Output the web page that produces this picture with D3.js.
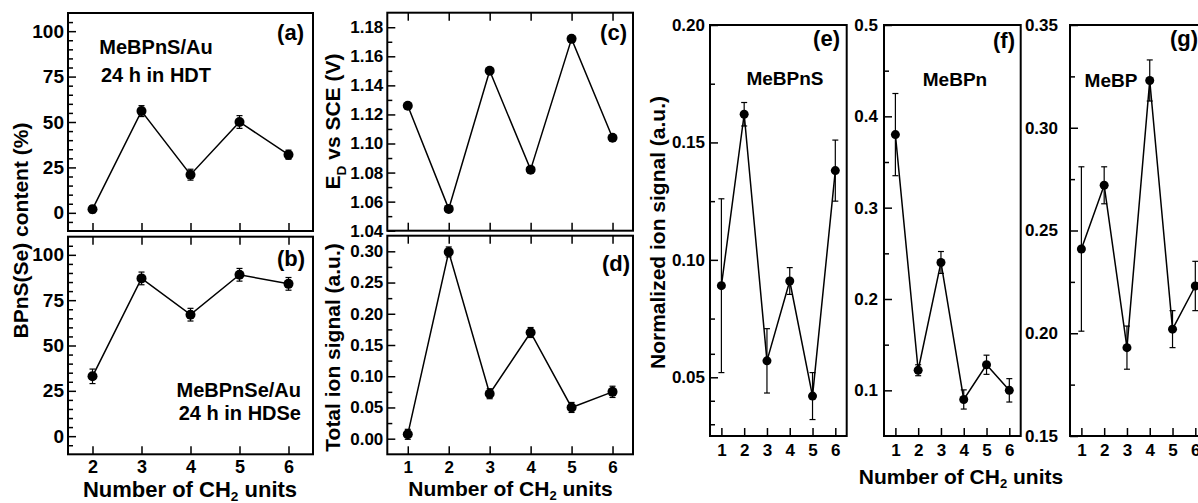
<!DOCTYPE html>
<html>
<head>
<meta charset="utf-8">
<script src="https://cdn.jsdelivr.net/npm/d3@7"></script>
<style>
  html, body { margin: 0; padding: 0; background: #fff; }
  svg { display: block; font-family: "Liberation Sans", Arial, Helvetica, sans-serif; font-weight: bold; }
</style>
</head>
<body>
<svg id="chart" width="1198" height="503"></svg>
<script>
// ---- data ----
const unitsAB = [2, 3, 4, 5, 6];
const contentS = [2, 56, 21, 50, 32];          // MeBPnS/Au after 24 h in HDT (%)
const contentSErr = [2, 3, 3, 3.5, 2.5];
const contentSe = [33, 87, 67, 89, 84];        // MeBPnSe/Au after 24 h in HDSe (%)
const contentSeErr = [4, 3.5, 3.5, 3.5, 3.5];

const unitsCG = [1, 2, 3, 4, 5, 6];
const desorption = [1.126, 1.055, 1.150, 1.082, 1.172, 1.104];   // E_D vs SCE (V)
const totalIon = [0.007, 0.299, 0.072, 0.170, 0.050, 0.075];
const totalIonErr = [0.008, 0.008, 0.008, 0.008, 0.008, 0.009];

const ionMeBPnS = [0.089, 0.162, 0.057, 0.091, 0.042, 0.138];
const ionMeBPnSErr = [0.037, 0.005, 0.0137, 0.0057, 0.010, 0.013];
const ionMeBPn = [0.380, 0.122, 0.240, 0.090, 0.128, 0.100];
const ionMeBPnErr = [0.045, 0.006, 0.012, 0.0105, 0.0105, 0.0128];
const ionMeBP = [0.241, 0.272, 0.193, 0.323, 0.202, 0.223];
const ionMeBPErr = [0.040, 0.009, 0.0105, 0.010, 0.009, 0.012];

// ---- tick values ----
const ticksContent = [0, 25, 50, 75, 100];
const minorContent = d3.range(-5, 110, 5).filter(v => v % 25 !== 0);
const ticksED = [1.04, 1.06, 1.08, 1.10, 1.12, 1.14, 1.16, 1.18];
const minorED = [1.05, 1.07, 1.09, 1.11, 1.13, 1.15, 1.17];
const ticksTotal = [0, 0.05, 0.10, 0.15, 0.20, 0.25, 0.30];
const minorTotal = [0.025, 0.075, 0.125, 0.175, 0.225, 0.275];
const ticksE = [0.05, 0.10, 0.15, 0.20];
const minorE = [0.175, 0.125, 0.075, 0.06, 0.04, 0.03];
const ticksF = [0.1, 0.2, 0.3, 0.4, 0.5];
const minorF = [0.15, 0.25, 0.35, 0.45];
const ticksG = [0.15, 0.20, 0.25, 0.30, 0.35];
const minorG = [0.175, 0.225, 0.275, 0.325];

const svg = d3.select("#chart");

function panel(cfg) {
  const g = svg.append("g");
  const x = d3.scaleLinear().domain(cfg.xDomain).range([cfg.left, cfg.right]);
  const y = d3.scaleLinear().domain(cfg.yDomain).range([cfg.bottom, cfg.top]);
  const w = cfg.right - cfg.left, h = cfg.bottom - cfg.top;
  const fs = cfg.tickFont;

  // left axis: major + minor, inward
  const yAx = g.append("g").attr("transform", `translate(${cfg.left},0)`)
    .call(d3.axisLeft(y).tickValues(cfg.yTicks).tickFormat(d3.format(cfg.yFmt))
      .tickSizeInner(-8).tickSizeOuter(0).tickPadding(cfg.yPad || 4));
  yAx.select(".domain").remove();
  yAx.selectAll("text").style("font-size", fs + "px").attr("fill", "#000");
  yAx.selectAll("line").attr("stroke-width", 1.5);
  const yMin = g.append("g").attr("transform", `translate(${cfg.left},0)`)
    .call(d3.axisLeft(y).tickValues(cfg.yMinor).tickFormat("").tickSizeInner(-5).tickSizeOuter(0));
  yMin.select(".domain").remove();
  yMin.selectAll("line").attr("stroke-width", 1.5);

  // bottom axis
  const xAx = g.append("g").attr("transform", `translate(0,${cfg.bottom})`)
    .call(d3.axisBottom(x).tickValues(cfg.xTicks)
      .tickFormat(cfg.xLabels ? d3.format("d") : "")
      .tickSizeInner(-8).tickSizeOuter(0).tickPadding(cfg.xPad || 8));
  xAx.select(".domain").remove();
  xAx.selectAll("text").style("font-size", (cfg.xTickFont || fs) + "px").attr("fill", "#000");
  xAx.selectAll("line").attr("stroke-width", 1.5);

  // top axis (ticks only)
  if (cfg.topTicks) {
    const tAx = g.append("g").attr("transform", `translate(0,${cfg.top})`)
      .call(d3.axisTop(x).tickValues(cfg.xTicks).tickFormat("").tickSizeInner(-8).tickSizeOuter(0));
    tAx.select(".domain").remove();
    tAx.selectAll("line").attr("stroke-width", 1.5);
  }

  // frame
  g.append("rect").attr("x", cfg.left).attr("y", cfg.top).attr("width", w).attr("height", h)
    .attr("fill", "none").attr("stroke", "#000").attr("stroke-width", 2);

  const pts = cfg.xs.map((v, i) => ({ x: v, y: cfg.ys[i], e: cfg.errs ? cfg.errs[i] : 0 }));

  // connecting line
  g.append("path").datum(pts)
    .attr("d", d3.line().x(d => x(d.x)).y(d => y(d.y)))
    .attr("fill", "none").attr("stroke", "#000").attr("stroke-width", 1.5);

  // error bars
  if (cfg.errs) {
    const eb = g.append("g").attr("stroke", "#000").attr("stroke-width", 1.2);
    pts.forEach(d => {
      const cx = x(d.x), y1 = y(d.y + d.e), y2 = y(d.y - d.e);
      eb.append("line").attr("x1", cx).attr("x2", cx).attr("y1", y1).attr("y2", y2);
      eb.append("line").attr("x1", cx - 3).attr("x2", cx + 3).attr("y1", y1).attr("y2", y1);
      eb.append("line").attr("x1", cx - 3).attr("x2", cx + 3).attr("y1", y2).attr("y2", y2);
    });
  }

  // markers
  g.append("g").selectAll("circle").data(pts).join("circle")
    .attr("cx", d => x(d.x)).attr("cy", d => y(d.y)).attr("r", cfg.r || 5).attr("fill", "#000");

  return g;
}

function label(txt, x, y, size, anchor) {
  svg.append("text").attr("x", x).attr("y", y).attr("text-anchor", anchor || "start")
    .style("font-size", size + "px").attr("fill", "#000").text(txt);
}

function xTitle(cx, y, size) {
  const t = svg.append("text").attr("x", cx).attr("y", y).attr("text-anchor", "middle")
    .style("font-size", size + "px").attr("fill", "#000");
  t.append("tspan").text("Number of CH");
  t.append("tspan").attr("dy", size * 0.2).style("font-size", (size * 0.62) + "px").text("2");
  t.append("tspan").attr("dy", -size * 0.2).text(" units");
}

function yTitle(x, cy, size, parts) {
  const t = svg.append("text").attr("transform", `translate(${x},${cy}) rotate(-90)`)
    .attr("text-anchor", "middle").style("font-size", size + "px").attr("fill", "#000");
  parts.forEach(p => {
    const s = t.append("tspan").text(p.t);
    if (p.sub) s.attr("dy", size * 0.3).style("font-size", (size * 0.65) + "px");
    if (p.after) s.attr("dy", -size * 0.3);
  });
}

// (a) MeBPnS/Au
panel({ left: 68, right: 313, top: 13, bottom: 231, xDomain: [1.5, 6.5], yDomain: [-10, 110],
  xs: unitsAB, ys: contentS, errs: contentSErr, xTicks: unitsAB, yTicks: ticksContent, yMinor: minorContent,
  yFmt: "d", tickFont: 19, xLabels: false, topTicks: false, r: 5 });
// (b) MeBPnSe/Au
panel({ left: 68, right: 313, top: 236.7, bottom: 454.3, xDomain: [1.5, 6.5], yDomain: [-10, 110],
  xs: unitsAB, ys: contentSe, errs: contentSeErr, xTicks: unitsAB, yTicks: ticksContent, yMinor: minorContent,
  yFmt: "d", tickFont: 19, xTickFont: 18, xPad: 6, xLabels: true, topTicks: true, r: 5 });
// (c) desorption potential
panel({ left: 387.3, right: 633, top: 12.7, bottom: 230.7, xDomain: [0.5, 6.5], yDomain: [1.04, 1.19],
  xs: unitsCG, ys: desorption, errs: null, xTicks: unitsCG, yTicks: ticksED, yMinor: minorED,
  yFmt: ".2f", tickFont: 17, xLabels: false, topTicks: true, r: 5 });
// (d) total ion signal
panel({ left: 387.3, right: 633, top: 235.7, bottom: 454.3, xDomain: [0.5, 6.5], yDomain: [-0.025, 0.325],
  xs: unitsCG, ys: totalIon, errs: totalIonErr, xTicks: unitsCG, yTicks: ticksTotal, yMinor: minorTotal,
  yFmt: ".2f", tickFont: 17, xPad: 7, xLabels: true, topTicks: true, r: 5 });
// (e) MeBPnS
panel({ left: 710, right: 846.7, top: 25, bottom: 436, xDomain: [0.5, 6.5], yDomain: [0.025, 0.20],
  xs: unitsCG, ys: ionMeBPnS, errs: ionMeBPnSErr, xTicks: unitsCG, yTicks: ticksE, yMinor: minorE,
  yFmt: ".2f", tickFont: 17, xLabels: true, topTicks: false, r: 4.5, yPad: 5 });
// (f) MeBPn
panel({ left: 884, right: 1020.7, top: 25, bottom: 436, xDomain: [0.5, 6.5], yDomain: [0.05, 0.5],
  xs: unitsCG, ys: ionMeBPn, errs: ionMeBPnErr, xTicks: unitsCG, yTicks: ticksF, yMinor: minorF,
  yFmt: ".1f", tickFont: 17, xLabels: true, topTicks: false, r: 4.5, yPad: 6 });
// (g) MeBP
panel({ left: 1070, right: 1206.7, top: 25, bottom: 436, xDomain: [0.5, 6.5], yDomain: [0.15, 0.35],
  xs: unitsCG, ys: ionMeBP, errs: ionMeBPErr, xTicks: unitsCG, yTicks: ticksG, yMinor: minorG,
  yFmt: ".2f", tickFont: 17, xLabels: true, topTicks: false, r: 4.5, yPad: 12 });

// panel letters
label("(a)", 304, 40, 22, "end");
label("(b)", 305, 266, 22, "end");
label("(c)", 627, 40, 22, "end");
label("(d)", 630, 271, 22, "end");
label("(e)", 840, 46, 22, "end");
label("(f)", 1015, 48, 22, "end");
label("(g)", 1198, 46, 22, "end");

// annotations
label("MeBPnS/Au", 156, 54, 20, "middle");
label("24 h in HDT", 156, 82, 20, "middle");
label("MeBPnSe/Au", 301, 397, 20, "end");
label("24 h in HDSe", 301, 420, 20, "end");
label("MeBPnS", 785, 85, 19, "middle");
label("MeBPn", 955, 86, 19, "middle");
label("MeBP", 1111, 87, 19, "middle");

// axis titles
xTitle(190, 497, 22);
xTitle(510.5, 496, 21);
xTitle(961, 484, 21);
yTitle(28, 230.5, 21, [{ t: "BPnS(Se) content (%)" }]);
yTitle(340, 121.5, 21, [{ t: "E" }, { t: "D", sub: true }, { t: " vs SCE (V)", after: true }]);
yTitle(340, 347.5, 21, [{ t: "Total ion signal (a.u.)" }]);
yTitle(665, 232.5, 21, [{ t: "Normalized ion signal (a.u.)" }]);
</script>
</body>
</html>
